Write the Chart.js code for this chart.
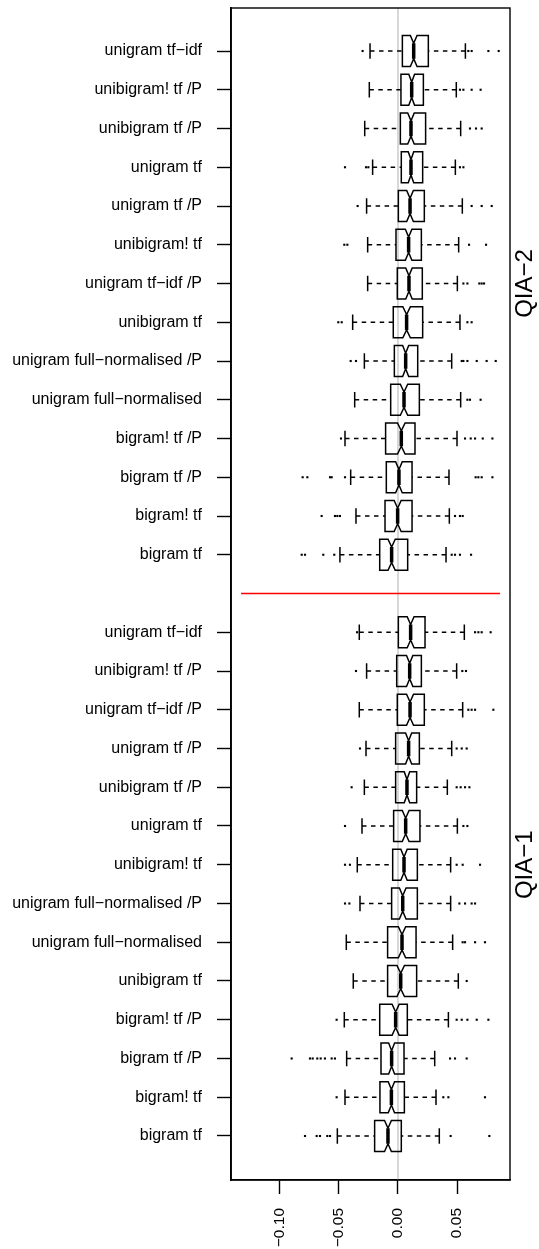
<!DOCTYPE html>
<html>
<head>
<meta charset="utf-8">
<script src="https://cdn.jsdelivr.net/npm/chart.js@4.4.1/dist/chart.umd.min.js"></script>
<style>
  html, body { margin: 0; padding: 0; background: #ffffff; }
  #wrap { width: 539px; height: 1249px; }
  canvas { display: block; }
</style>
</head>
<body>
<div id="wrap"><canvas id="chart" width="539" height="1249"></canvas></div>
<script>
// ---- Data ---------------------------------------------------------------
// Rows are listed top to bottom within each panel.
const qia2Methods = [
  "unigram tf\u2212idf", "unibigram! tf /P", "unibigram tf /P", "unigram tf",
  "unigram tf /P", "unibigram! tf", "unigram tf\u2212idf /P", "unibigram tf",
  "unigram full\u2212normalised /P", "unigram full\u2212normalised",
  "bigram! tf /P", "bigram tf /P", "bigram! tf", "bigram tf"
];
const qia2Low    = [-0.0237, -0.0243, -0.0282, -0.0215, -0.0266, -0.0257, -0.0257, -0.0384, -0.0285, -0.0367, -0.0449, -0.0401, -0.0356, -0.0492];
const qia2Q1     = [ 0.0037,  0.0025,  0.0020,  0.0028,  0.0003, -0.0017, -0.0006, -0.0040, -0.0031, -0.0062, -0.0105, -0.0099, -0.0110, -0.0155];
const qia2Median = [ 0.0133,  0.0116,  0.0110,  0.0110,  0.0102,  0.0090,  0.0093,  0.0073,  0.0065,  0.0051,  0.0028,  0.0008, -0.0003, -0.0054];
const qia2Q3     = [ 0.0257,  0.0215,  0.0234,  0.0209,  0.0223,  0.0198,  0.0206,  0.0209,  0.0167,  0.0181,  0.0144,  0.0119,  0.0119,  0.0082];
const qia2High   = [ 0.0571,  0.0494,  0.0531,  0.0486,  0.0545,  0.0514,  0.0503,  0.0525,  0.0455,  0.0531,  0.0500,  0.0432,  0.0435,  0.0407];
const qia2Outliers = [
  [-0.0300, 0.0596, 0.0624, 0.0766, 0.0853],
  [0.0525, 0.0554, 0.0624, 0.0700],
  [0.0610, 0.0661, 0.0709],
  [-0.0449, -0.0271, -0.0251, 0.0525, 0.0554],
  [-0.0342, 0.0624, 0.0709, 0.0794],
  [-0.0455, -0.0429, 0.0602, 0.0746],
  [0.0554, 0.0588, 0.0689, 0.0709, 0.0729],
  [-0.0506, -0.0477, 0.0588, 0.0624],
  [-0.0401, -0.0356, 0.0540, 0.0554, 0.0588, 0.0667, 0.0751, 0.0828],
  [0.0588, 0.0610, 0.0700],
  [-0.0483, 0.0568, 0.0616, 0.0653, 0.0718, 0.0800],
  [-0.0808, -0.0768, -0.0576, -0.0562, -0.0449, 0.0658, 0.0681, 0.0709, 0.0800],
  [-0.0647, -0.0534, -0.0514, -0.0492, 0.0483, 0.0525, 0.0548],
  [-0.0816, -0.0788, -0.0633, -0.0540, 0.0455, 0.0483, 0.0525, 0.0619]
];

const qia1Methods = [
  "unigram tf\u2212idf", "unibigram! tf /P", "unigram tf\u2212idf /P", "unigram tf /P",
  "unibigram tf /P", "unigram tf", "unibigram! tf",
  "unigram full\u2212normalised /P", "unigram full\u2212normalised", "unibigram tf",
  "bigram! tf /P", "bigram tf /P", "bigram! tf", "bigram tf"
];
const qia1Low    = [-0.0328, -0.0266, -0.0328, -0.0271, -0.0285, -0.0305, -0.0345, -0.0322, -0.0438, -0.0379, -0.0455, -0.0435, -0.0449, -0.0514];
const qia1Q1     = [ 0.0003, -0.0011, -0.0006, -0.0020, -0.0020, -0.0037, -0.0045, -0.0054, -0.0088, -0.0088, -0.0155, -0.0144, -0.0153, -0.0198];
const qia1Median = [ 0.0107,  0.0099,  0.0102,  0.0090,  0.0076,  0.0065,  0.0051,  0.0040,  0.0034,  0.0023, -0.0020, -0.0054, -0.0056, -0.0085];
const qia1Q3     = [ 0.0229,  0.0198,  0.0223,  0.0181,  0.0158,  0.0186,  0.0164,  0.0164,  0.0153,  0.0158,  0.0079,  0.0051,  0.0054,  0.0028];
const qia1High   = [ 0.0562,  0.0497,  0.0548,  0.0455,  0.0418,  0.0503,  0.0446,  0.0446,  0.0463,  0.0511,  0.0427,  0.0311,  0.0322,  0.0350];
const qia1Outliers = [
  [-0.0347, 0.0653, 0.0681, 0.0709, 0.0785],
  [-0.0356, 0.0545, 0.0576],
  [0.0596, 0.0624, 0.0653, 0.0808],
  [-0.0322, 0.0497, 0.0540, 0.0582],
  [-0.0393, 0.0497, 0.0531, 0.0568, 0.0605],
  [-0.0449, 0.0554, 0.0588],
  [-0.0449, -0.0407, 0.0497, 0.0548, 0.0695],
  [-0.0449, -0.0412, 0.0520, 0.0568, 0.0624, 0.0653],
  [0.0548, 0.0568, 0.0653, 0.0737],
  [0.0582],
  [-0.0520, 0.0497, 0.0540, 0.0588, 0.0667, 0.0766],
  [-0.0901, -0.0746, -0.0723, -0.0684, -0.0655, -0.0619, -0.0562, -0.0534, 0.0441, 0.0483, 0.0582],
  [-0.0520, 0.0384, 0.0427, 0.0737],
  [-0.0788, -0.0689, -0.0661, -0.0599, -0.0576, 0.0446, 0.0774]
];

const panelNames = ["QIA\u22122", "QIA\u22121"];
const xTickValues = [-0.10, -0.05, 0.00, 0.05];
const separatorSpan = [-0.133, 0.0864];   // extent of the red divider
const sampleSize = 150;                    // observations per method (notch width)

// ---- Layout of the rows on the value axis --------------------------------
// QIA-2 occupies slots 29..16, QIA-1 slots 14..1, slot 15 holds the divider.
const rows = [];
function addPanel(methods, lo, q1, med, q3, hi, outl, topSlot) {
  methods.forEach((m, i) => {
    rows.push({ label: m, slot: topSlot - i, lo: lo[i], q1: q1[i], med: med[i],
                q3: q3[i], hi: hi[i], out: outl[i] });
  });
}
addPanel(qia2Methods, qia2Low, qia2Q1, qia2Median, qia2Q3, qia2High, qia2Outliers, 29);
addPanel(qia1Methods, qia1Low, qia1Q1, qia1Median, qia1Q3, qia1High, qia1Outliers, 14);
const separatorSlot = 15;
const panelCenters = [23, 8];

const slotLabel = {};
rows.forEach(r => { slotLabel[r.slot] = r.label; });

const outlierPoints = [];
rows.forEach(r => r.out.forEach(v => outlierPoints.push({ x: v, y: r.slot })));

const fmtNum = v => v.toFixed(2).replace('-', '\u2212');
const FONT = "'Liberation Sans', Arial, Helvetica, sans-serif";

// ---- Notched box-and-whisker drawing ------------------------------------
const boxHalf = 0.4;      // half box thickness, in slot units
const boxplotPlugin = {
  id: 'notchedBoxes',
  beforeDatasetsDraw(chart) {
    const { ctx, chartArea: a, scales: { x, y } } = chart;
    ctx.save();
    // reference line at zero
    ctx.strokeStyle = '#bebebe';
    ctx.lineWidth = 1.2;
    ctx.beginPath();
    ctx.moveTo(x.getPixelForValue(0), a.top);
    ctx.lineTo(x.getPixelForValue(0), a.bottom);
    ctx.stroke();

    rows.forEach(r => {
      const yc = y.getPixelForValue(r.slot);
      const yOff = Math.abs(y.getPixelForValue(r.slot + boxHalf) - yc);
      const nHalf = 1.58 * (r.q3 - r.q1) / Math.sqrt(sampleSize);
      const px = v => x.getPixelForValue(v);

      // dashed whiskers
      ctx.strokeStyle = '#000';
      ctx.lineWidth = 1.3;
      ctx.setLineDash([4.5, 4.5]);
      ctx.beginPath();
      ctx.moveTo(px(r.lo), yc); ctx.lineTo(px(r.q1), yc);
      ctx.moveTo(px(r.hi), yc); ctx.lineTo(px(r.q3), yc);
      ctx.stroke();
      ctx.setLineDash([]);

      // staples
      ctx.lineWidth = 1.5;
      ctx.beginPath();
      ctx.moveTo(px(r.lo), yc - yOff / 2); ctx.lineTo(px(r.lo), yc + yOff / 2);
      ctx.moveTo(px(r.hi), yc - yOff / 2); ctx.lineTo(px(r.hi), yc + yOff / 2);
      ctx.stroke();

      // notched box outline
      ctx.lineWidth = 1.5;
      ctx.lineJoin = 'miter';
      ctx.beginPath();
      ctx.moveTo(px(r.q1), yc - yOff);
      ctx.lineTo(px(r.q1), yc + yOff);
      ctx.lineTo(px(r.med - nHalf), yc + yOff);
      ctx.lineTo(px(r.med), yc + yOff / 2);
      ctx.lineTo(px(r.med + nHalf), yc + yOff);
      ctx.lineTo(px(r.q3), yc + yOff);
      ctx.lineTo(px(r.q3), yc - yOff);
      ctx.lineTo(px(r.med + nHalf), yc - yOff);
      ctx.lineTo(px(r.med), yc - yOff / 2);
      ctx.lineTo(px(r.med - nHalf), yc - yOff);
      ctx.closePath();
      ctx.stroke();

      // median bar
      ctx.lineWidth = 3.5;
      ctx.lineCap = 'butt';
      ctx.beginPath();
      ctx.moveTo(px(r.med), yc - yOff / 2);
      ctx.lineTo(px(r.med), yc + yOff / 2);
      ctx.stroke();
    });
    ctx.restore();
  },
  afterDraw(chart) {
    const { ctx, chartArea: a, scales: { y } } = chart;
    ctx.save();
    // plot frame
    ctx.strokeStyle = '#000';
    ctx.lineWidth = 1.4;
    ctx.strokeRect(a.left, a.top, a.right - a.left, a.bottom - a.top);
    // panel titles on the right margin
    ctx.fillStyle = '#000';
    ctx.font = '24px ' + FONT;
    ctx.textAlign = 'center';
    ctx.textBaseline = 'middle';
    panelNames.forEach((name, i) => {
      ctx.save();
      ctx.translate(a.right + 15, y.getPixelForValue(panelCenters[i]));
      ctx.rotate(-Math.PI / 2);
      ctx.fillText(name, 0, 0);
      ctx.restore();
    });
    ctx.restore();
  }
};

Chart.defaults.color = '#000';
Chart.defaults.font.family = FONT;

// Keep the plotting region fixed: no extra label overhang padding.
const noPad = s => { s.paddingTop = 0; s.paddingBottom = 0; s.paddingLeft = 0; s.paddingRight = 0; };

new Chart(document.getElementById('chart'), {
  type: 'scatter',
  data: {
    datasets: [
      {
        label: 'outliers',
        data: outlierPoints,
        pointStyle: 'rect',
        pointRadius: 1.5,
        pointHoverRadius: 1.5,
        backgroundColor: '#000',
        borderColor: '#000',
        borderWidth: 0
      },
      {
        type: 'line',
        label: 'divider',
        data: [{ x: separatorSpan[0], y: separatorSlot }, { x: separatorSpan[1], y: separatorSlot }],
        borderColor: '#ff0000',
        borderWidth: 1.5,
        pointRadius: 0,
        fill: false
      }
    ]
  },
  options: {
    responsive: false,
    animation: false,
    devicePixelRatio: 1,
    layout: { padding: { top: 8, right: 29, left: 0, bottom: 0 } },
    plugins: { legend: { display: false }, tooltip: { enabled: false } },
    scales: {
      x: {
        type: 'linear',
        min: -0.1415,
        max: 0.0949,
        afterBuildTicks: s => { s.ticks = xTickValues.map(v => ({ value: v })); },
        afterFit: s => { s.height = 69; noPad(s); },
        ticks: {
          callback: v => fmtNum(v),
          minRotation: 90,
          maxRotation: 90,
          autoSkip: false,
          padding: 14,
          color: '#000',
          font: { size: 15.5, family: FONT }
        },
        grid: { drawOnChartArea: false, tickLength: 14, tickColor: '#000', tickWidth: 1.4 },
        border: { color: '#000', width: 1.4 }
      },
      y: {
        type: 'linear',
        min: -0.1355,
        max: 30.1097,
        afterBuildTicks: s => { s.ticks = rows.map(r => ({ value: r.slot })).sort((a, b) => a.value - b.value); },
        afterFit: s => { s.width = 231; noPad(s); },
        ticks: {
          callback: v => slotLabel[v] || '',
          autoSkip: false,
          padding: 15,
          color: '#000',
          font: { size: 16, family: FONT }
        },
        grid: { drawOnChartArea: false, tickLength: 14, tickColor: '#000', tickWidth: 1.4 },
        border: { color: '#000', width: 1.8 }
      }
    }
  },
  plugins: [boxplotPlugin]
});
</script>
</body>
</html>
